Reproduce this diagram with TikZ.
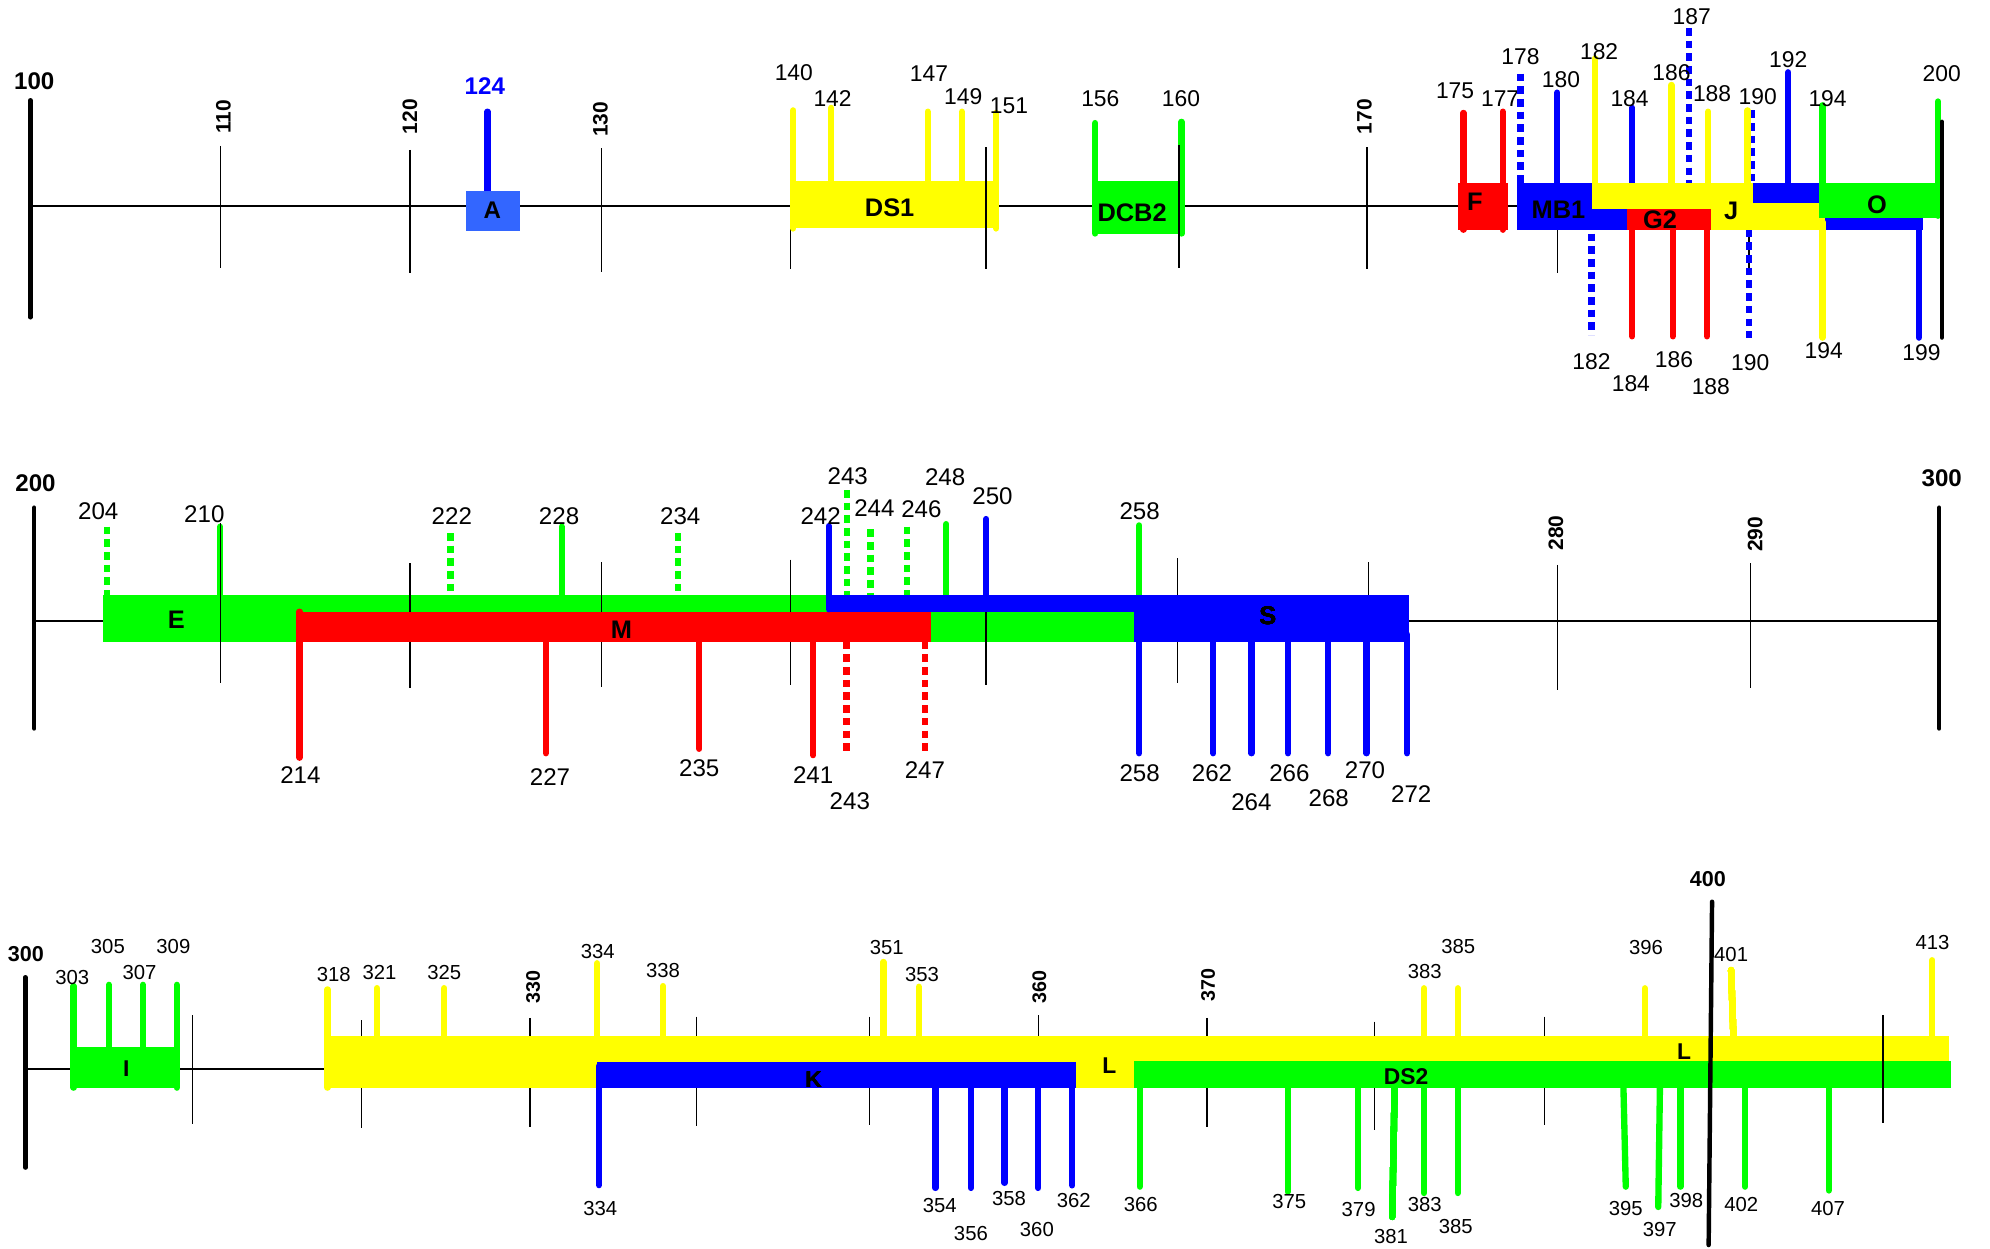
\documentclass[tikz,border=0pt]{standalone}
\usepackage{fontspec}
\setmainfont{Liberation Sans}
\definecolor{cg}{RGB}{0,255,0}
\definecolor{cy}{RGB}{255,255,0}
\definecolor{cr}{RGB}{255,0,0}
\definecolor{cb}{RGB}{0,0,255}
\definecolor{ca}{RGB}{51,102,255}
\newcommand\vln[4]{\draw[#1] (#2,#3) -- (#2,#4);}
\begin{document}
\begin{tikzpicture}[x=1pt,y=-1pt,
 fl/.style={line width=5pt,line cap=round},
 dl/.style={line width=5pt,dash pattern=on 6pt off 4pt},
 tk/.style={line width=1pt},
 ax/.style={line width=1.5pt},
 bar/.style={line width=3.5pt,line cap=round},
 nA/.style={inner sep=0pt,font=\fontsize{18}{20}\selectfont},
 nB/.style={inner sep=0pt,font=\fontsize{19}{21}\selectfont},
 nC/.style={inner sep=0pt,font=\fontsize{16}{18}\selectfont},
 hA/.style={inner sep=0pt,font=\bfseries\fontsize{19}{21}\selectfont},
 hC/.style={inner sep=0pt,font=\bfseries\fontsize{17}{19}\selectfont},
 rA/.style={inner sep=0pt,rotate=90,font=\bfseries\fontsize{16.5}{18}\selectfont},
 rC/.style={inner sep=0pt,rotate=90,font=\bfseries\fontsize{15.5}{17}\selectfont},
 bA/.style={inner sep=0pt,font=\bfseries\fontsize{20}{22}\selectfont},
 bS/.style={inner sep=0pt,font=\bfseries\fontsize{19}{21}\selectfont},
 bC/.style={inner sep=0pt,font=\bfseries\fontsize{18}{20}\selectfont},
]
\useasboundingbox (0,0) rectangle (1568,984);
\fill[white] (0,0) rectangle (1568,984);

% ================= ROW 1 =================
\draw[ax] (24,162) -- (1530,162);
\foreach \x/\a/\b in {174/115/211, 323/118/215, 474/117/214, 623/116/212, 1077/116/212, 1227/116/215, 1378/116/211}
  \draw[tk] (\x,\a) -- (\x,\b);
\draw[bar] (24,79) -- (24,250);
\node[hA] (a100) at (27,64) {100};
\node[rA] (a110) at (176,92) {110};
\node[rA] (a120) at (323,92) {120};
\node[rA] (a130) at (473,94) {130};
\node[rA] (a170) at (1075,92) {170};

% A
\vln{cb,fl}{384}{88}{151}
\fill[ca] (367,150.5) rectangle (410,182);
\node[bS] (aA) at (388,166) {A};
\node[hA,text=cb] (a124) at (382,68) {124};

% DS1
\fill[cy] (624,143) rectangle (787,180);
\vln{cy,fl}{625}{87}{180}
\vln{cy,fl}{655}{85}{150}
\vln{cy,fl}{731}{88}{150}
\vln{cy,fl}{758}{88}{150}
\vln{cy,fl}{785}{89}{180}
\node[bA] (aDS1) at (701,164) {DS1};
\node[nA] (a140) at (625.5,57) {140};
\node[nA] (a142) at (656,78) {142};
\node[nA] (a147) at (732,58) {147};
\node[nA] (a149) at (759,76) {149};
\node[nA] (a151) at (795,83) {151};

% DCB2
\fill[cg] (861,143) rectangle (933,184);
\vln{cg,fl}{863}{97}{184}
\vln{cg,fl}{931}{96}{184}
\node[bA] (aDCB2) at (892,168) {DCB2};
\node[nA] (a156) at (867,78) {156};
\node[nA] (a160) at (930.5,78) {160};
\draw[tk] (777,116) -- (777,212);
\draw[tk] (929,114) -- (929,211);

% F
\vln{cr,fl}{1153}{89}{181}
\vln{cr,fl}{1184}{88}{181}
\fill[cr] (1149,144) rectangle (1188,181);
\node[bA] (aF) at (1162,159) {F};
\node[nA] (a175) at (1146.5,71.5) {175};
\node[nA] (a177) at (1182,78) {177};

% MB1 (blue)
\fill[cb] (1195,144) rectangle (1433,181);
\fill[cb] (1433,172) rectangle (1515,181);
\vln{cb,fl}{1227}{73}{144}
\vln{cb,fl}{1286}{85}{144}
\vln{cb,fl}{1409}{57}{144}
\vln{cb,fl}{1512}{181}{266}
\vln{cb,dl}{1198}{58}{144}
\vln{cb,dl}{1331}{22}{144}
\vln{cb,dl}{1380}{87}{144}
\vln{cb,dl}{1254}{184}{264}
\vln{cb,dl}{1378}{181}{266}
\node[bA] (aMB1) at (1228,165.5) {MB1};

% J (yellow)
\fill[cy] (1254,144) rectangle (1381,164.5);
\fill[cy] (1346,160) rectangle (1438,181);
\vln{cy,fl}{1257}{46}{160}
\vln{cy,fl}{1317}{67}{150}
\vln{cy,fl}{1346}{88}{150}
\vln{cy,fl}{1377}{87}{150}
\vln{cy,fl}{1436}{175}{266}
\node[bA] (aJ) at (1364,166) {J};

% G2 (red)
\fill[cr] (1282,165) rectangle (1348,181);
\vln{cr,fl}{1286}{178}{265}
\vln{cr,fl}{1318}{178}{265}
\vln{cr,fl}{1345}{178}{265}
\node[bA] (aG2) at (1308,173.5) {G2};

% O (green)
\fill[cg] (1433,144) rectangle (1527,172);
\vln{cg,fl}{1436}{83}{150}
\vln{cg,fl}{1527}{80}{170}
\node[bA] (aO) at (1479,161.5) {O};
\draw[bar] (1530,96) -- (1530,266);

\node[nA] (a178) at (1198,45) {178};
\node[nA] (a180) at (1230,63) {180};
\node[nA] (a182u) at (1260,41) {182};
\node[nA] (a184u) at (1284,77.5) {184};
\node[nA] (a186u) at (1317,57) {186};
\node[nA] (a187) at (1333,13) {187};
\node[nA] (a188u) at (1349,74) {188};
\node[nA] (a190u) at (1385,76) {190};
\node[nA] (a192) at (1409,47) {192};
\node[nA] (a194u) at (1440,77.5) {194};
\node[nA] (a200) at (1530,58) {200};
\node[nA] (a182d) at (1254,285) {182};
\node[nA] (a184d) at (1285,302) {184};
\node[nA] (a186d) at (1319,283) {186};
\node[nA] (a188d) at (1348,305) {188};
\node[nA] (a190d) at (1379,286) {190};
\node[nA] (a194d) at (1437,276) {194};
\node[nA] (a199) at (1514,278) {199};

% ================= ROW 2 =================
\draw[ax] (27,489) -- (1528,489);
\draw[bar] (27,400) -- (27,574);
\draw[bar] (1528,400) -- (1528,574);
\node[hA] (b200) at (28,381) {200};
\node[hA] (b300) at (1530,377) {300};
\node[rA] (b280) at (1226,420) {280};
\node[rA] (b290) at (1383,421) {290};

% E (green)
\fill[cg] (81,469) rectangle (900,505.5);
\vln{cg,fl}{173.5}{415}{475}
\vln{cg,fl}{442.6}{415}{475}
\vln{cg,fl}{745.6}{413}{475}
\vln{cg,fl}{897.6}{414}{475}
\vln{cg,dl}{84.4}{415}{469}
\vln{cg,dl}{355}{420}{469}
\vln{cg,dl}{534}{420}{469}
\vln{cg,dl}{667.6}{386}{469}
\vln{cg,dl}{686}{417}{469}
\vln{cg,dl}{714.6}{415}{469}
\node[bA] (bE) at (139,488.5) {E};
\foreach \x/\a/\b in {174/412/538, 323/444/542, 474/443/541, 623/441/540, 777/441/540, 928/440/538, 1078/443/540, 1227/445/544, 1379/444/542}
  \draw[tk] (\x,\a) -- (\x,\b);

% M (red)
\fill[cr] (234,482) rectangle (733.3,505.6);
\vln{cr,fl}{236}{482}{597}
\vln{cr,fl}{430}{500}{593.5}
\vln{cr,fl}{551}{500}{590}
\vln{cr,fl}{640.7}{500}{595}
\vln{cr,dl}{667}{505.6}{595}
\vln{cr,dl}{729}{505.6}{595}
\node[bA] (bM) at (489.6,496.6) {M};

% S (blue)
\fill[cb] (651.5,469) rectangle (1110.5,482);
\fill[cb] (893.5,469) rectangle (1110.5,505.6);
\vln{cb,fl}{653}{414.5}{480}
\vln{cb,fl}{777}{409}{475}
\foreach \x in {897.6,956,986,1014.8,1046.5,1076.6,1108.7}
  \vln{cb,fl}{\x}{500}{593.5}
\node[bA] (bS) at (999,485) {S};

\node[nB] (b204) at (77.4,403) {204};
\node[nB] (b210) at (161,405) {210};
\node[nB] (b222) at (356,406.6) {222};
\node[nB] (b228) at (440.5,406.6) {228};
\node[nB] (b234) at (536,406.7) {234};
\node[nB] (b242) at (646.6,407) {242};
\node[nB] (b243u) at (668,375) {243};
\node[nB] (b244) at (689,400) {244};
\node[nB] (b246) at (726,401) {246};
\node[nB] (b248) at (744.7,376) {248};
\node[nB] (b250) at (782,391) {250};
\node[nB] (b258u) at (898,403) {258};
\node[nB] (b214) at (236.7,610.7) {214};
\node[nB] (b227) at (433.4,612) {227};
\node[nB] (b235) at (551,605) {235};
\node[nB] (b241) at (640.7,610.7) {241};
\node[nB] (b243d) at (669.6,631) {243};
\node[nB] (b247) at (728.8,606.8) {247};
\node[nB] (b258d) at (898,609) {258};
\node[nB] (b262) at (955,609) {262};
\node[nB] (b264) at (986,631.7) {264};
\node[nB] (b266) at (1016,609) {266};
\node[nB] (b268) at (1047,629) {268};
\node[nB] (b270) at (1075.5,607) {270};
\node[nB] (b272) at (1112,625.7) {272};

% ================= ROW 3 =================
\draw[ax] (20,842.5) -- (1536,842.5);
\foreach \x/\a/\b in {151.6/800/886, 284.6/804/889, 417.6/802/888, 549/801/887, 685/801/886.5, 818/800/885, 951/802/888, 1083/805/890.6, 1217/801/886.5}
  \draw[tk] (\x,\a) -- (\x,\b);
\draw[bar] (20,770) -- (20,920);
\node[hC] (c300) at (20.4,751.7) {300};
\node[rC] (c330) at (420,777.5) {330};
\node[rC] (c360) at (819,777.5) {360};
\node[rC] (c370) at (952,776) {370};

% I (green)
\fill[cg] (57,825) rectangle (141.4,857);
\vln{cg,fl}{58}{777}{857}
\vln{cg,fl}{85.8}{776}{830}
\vln{cg,fl}{112.6}{776}{830}
\vln{cg,fl}{139.3}{776}{857}
\node[bC] (cI) at (99.5,841.7) {I};

% L (yellow)
\fill[cy] (255.8,816.4) rectangle (1536,857);
\vln{cy,fl}{258}{779.6}{857}
\foreach \x/\t in {297/778.6, 350/778.6, 470.6/759, 522.4/777, 696/758, 724/777.5, 1122/778.7, 1148.6/778.7, 1296/778.7, 1522.5/756.6}
  \vln{cy,fl}{\x}{\t}{822}
\draw[cy,fl] (1364,764.4) -- (1366,822);
\node[bC] (cL1) at (874,840) {L};
\node[bC] (cL2) at (1327,828.8) {L};

% K (blue)
\fill[cb] (470.6,837) rectangle (848,857);
\vln{cb,fl}{472}{840}{933.8}
\foreach \x/\t in {737/936, 765/936, 791.6/932, 818/936, 844.8/934}
  \vln{cb,fl}{\x}{850}{\t}
\node[bC] (cK) at (641,851) {K};

% DS2 (green)
\fill[cg] (893.6,836) rectangle (1537,857);
\vln{cg,fl}{898}{840}{935}
\foreach \x/\t in {1014.6/939, 1070/936, 1122/940, 1148.6/940, 1324/935, 1375/935, 1441/938}
  \vln{cg,fl}{\x}{850}{\t}
\draw[cg,fl] (1099,850) -- (1097,958.8);
\draw[cg,fl] (1279,850) -- (1281,935);
\draw[cg,fl] (1308,850) -- (1306.6,951);
\node[bC] (cDS2) at (1108,848.5) {DS2};

\draw[tk] (1483.6,800) -- (1483.6,885);
\draw[bar] (1349,710.5) -- (1346.3,981);
\node[hC] (c400) at (1345.7,692.7) {400};

\node[nC] (c303) at (57,770) {303};
\node[nC] (c305) at (85,746) {305};
\node[nC] (c307) at (110,766) {307};
\node[nC] (c309) at (136.6,746) {309};
\node[nC] (c318) at (263,768) {318};
\node[nC] (c321) at (299,766) {321};
\node[nC] (c325) at (350,766) {325};
\node[nC] (c334u) at (471,750) {334};
\node[nC] (c338) at (522.4,765) {338};
\node[nC] (c351) at (698.7,746.8) {351};
\node[nC] (c353) at (726.5,768) {353};
\node[nC] (c383u) at (1122.6,765.7) {383};
\node[nC] (c385u) at (1149,746) {385};
\node[nC] (c396) at (1297,746.8) {396};
\node[nC] (c401) at (1364,751.8) {401};
\node[nC] (c413) at (1522.7,743) {413};
\node[nC] (c334d) at (473,952) {334};
\node[nC] (c354) at (740.5,950) {354};
\node[nC] (c356) at (765,972) {356};
\node[nC] (c358) at (795,944) {358};
\node[nC] (c360) at (817,968.6) {360};
\node[nC] (c362) at (846,945.6) {362};
\node[nC] (c366) at (898.8,948.8) {366};
\node[nC] (c375) at (1015.8,947) {375};
\node[nC] (c379) at (1070.5,952.8) {379};
\node[nC] (c381) at (1096,974) {381};
\node[nC] (c383d) at (1122.6,948.8) {383};
\node[nC] (c385d) at (1147,966.7) {385};
\node[nC] (c395) at (1281,952) {395};
\node[nC] (c397) at (1307.8,969) {397};
\node[nC] (c398) at (1328.6,946) {398};
\node[nC] (c402) at (1372,948.8) {402};
\node[nC] (c407) at (1440.4,952) {407};
\end{tikzpicture}
\end{document}
